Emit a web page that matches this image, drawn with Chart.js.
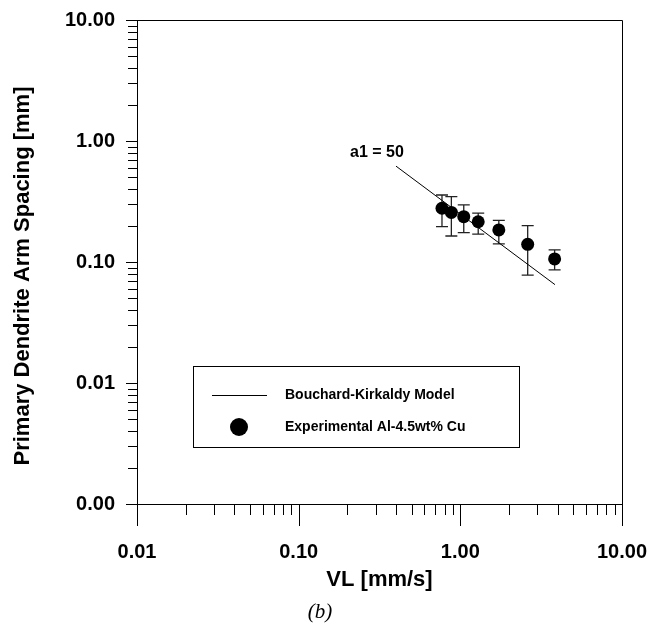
<!DOCTYPE html>
<html><head><meta charset="utf-8">
<script src="https://cdn.jsdelivr.net/npm/chart.js@4"></script>
<style>html,body{margin:0;padding:0;background:#fff}#wrap{width:649px;height:628px}</style>
</head><body><div id="wrap"><canvas id="c" width="649" height="628"></canvas></div>
<script>
// ---- data ----
const vl = [0.77, 0.88, 1.05, 1.29, 1.73, 2.61, 3.83];
const spacing = [0.278, 0.257, 0.237, 0.215, 0.184, 0.140, 0.106];
const errHigh = [0.358, 0.347, 0.296, 0.253, 0.221, 0.200, 0.126];
const errLow = [0.196, 0.164, 0.175, 0.170, 0.141, 0.078, 0.086];
const modelVL = [0.40, 3.85];
const modelSpacing = [0.62, 0.065];
const xDecades = [0.01, 0.1, 1, 10];
const xTickLabels = ["0.01", "0.10", "1.00", "10.00"];
const yDecades = [0.001, 0.01, 0.1, 1, 10];
const yTickLabels = ["0.00", "0.01", "0.10", "1.00", "10.00"];
const seriesNames = ["Bouchard-Kirkaldy Model", "Experimental Al-4.5wt% Cu"];
const xTitle = "VL [mm/s]";
const yTitle = "Primary Dendrite Arm Spacing [mm]";
const annotationText = "a1 = 50";
const captionText = "(b)";

const FONT = "'Liberation Sans', Arial, Helvetica, sans-serif";

function buildLogTicks(decades) {
  const t = [];
  for (let i = 0; i < decades.length; i++) {
    t.push({ value: decades[i], major: true });
    if (i < decades.length - 1) {
      for (let k = 2; k <= 9; k++) t.push({ value: decades[i] * k, major: false });
    }
  }
  return t;
}
function labelFor(decades, labels, v) {
  for (let i = 0; i < decades.length; i++) {
    if (Math.abs(decades[i] - v) / decades[i] < 1e-6) return labels[i];
  }
  return '';
}

const framePlugin = {
  id: 'frame',
  beforeDatasetsDraw(chart) {
    const { ctx, chartArea: a, scales: { x, y } } = chart;
    ctx.save();
    ctx.strokeStyle = '#000';
    ctx.lineWidth = 1;
    ctx.beginPath();
    ctx.moveTo(a.left, a.top + 0.5); ctx.lineTo(a.right + 0.5, a.top + 0.5);
    ctx.lineTo(a.right + 0.5, a.bottom);
    ctx.stroke();
    // tick marks
    ctx.beginPath();
    x.ticks.forEach(t => {
      const px = Math.round(x.getPixelForValue(t.value)) + 0.5;
      const len = t.major ? 22 : 11;
      ctx.moveTo(px, a.bottom); ctx.lineTo(px, a.bottom + len);
    });
    y.ticks.forEach(t => {
      const py = Math.round(y.getPixelForValue(t.value)) + 0.5;
      const len = t.major ? 11 : 9;
      ctx.moveTo(a.left - len, py); ctx.lineTo(a.left, py);
    });
    ctx.stroke();
    // error bars
    ctx.lineWidth = 1.3;
    ctx.strokeStyle = '#222';
    ctx.beginPath();
    for (let i = 0; i < vl.length; i++) {
      const px = x.getPixelForValue(vl[i]);
      const hi = y.getPixelForValue(errHigh[i]);
      const lo = y.getPixelForValue(errLow[i]);
      ctx.moveTo(px, hi); ctx.lineTo(px, lo);
      ctx.moveTo(px - 6, hi); ctx.lineTo(px + 6, hi);
      ctx.moveTo(px - 6, lo); ctx.lineTo(px + 6, lo);
    }
    ctx.stroke();
    ctx.restore();
  },
  afterDraw(chart) {
    const { ctx } = chart;
    ctx.save();
    ctx.fillStyle = '#000';
    ctx.strokeStyle = '#000';
    // y axis title
    ctx.save();
    ctx.translate(23, 276);
    ctx.rotate(-Math.PI / 2);
    ctx.font = "bold 22px " + FONT;
    ctx.textAlign = 'center';
    ctx.textBaseline = 'middle';
    ctx.fillText(yTitle, 0, 0);
    ctx.restore();
    // annotation
    ctx.font = "bold 16px " + FONT;
    ctx.textAlign = 'center';
    ctx.textBaseline = 'middle';
    ctx.fillText(annotationText, 377, 153);
    // legend box
    ctx.lineWidth = 1;
    ctx.strokeRect(193.5, 366.5, 326, 81);
    ctx.beginPath();
    ctx.moveTo(212, 395.5); ctx.lineTo(267, 395.5);
    ctx.stroke();
    ctx.beginPath();
    ctx.arc(239, 427, 9, 0, Math.PI * 2);
    ctx.fill();
    ctx.font = "bold 14px " + FONT;
    ctx.textAlign = 'left';
    ctx.fillText(seriesNames[0], 285, 395);
    ctx.fillText(seriesNames[1], 285, 427);
    // caption
    ctx.font = "italic 21px 'Liberation Serif', 'DejaVu Serif', serif";
    ctx.textAlign = 'center';
    ctx.fillText(captionText, 320, 612);
    ctx.restore();
  }
};

new Chart(document.getElementById('c'), {
  type: 'scatter',
  data: {
    datasets: [
      {
        label: seriesNames[0],
        data: modelVL.map((v, i) => ({ x: v, y: modelSpacing[i] })),
        showLine: true, borderColor: '#000', borderWidth: 1, pointRadius: 0, order: 2
      },
      {
        label: seriesNames[1],
        data: vl.map((v, i) => ({ x: v, y: spacing[i] })),
        backgroundColor: '#000', borderColor: '#000', pointRadius: 6.5, pointBorderWidth: 0, order: 1
      }
    ]
  },
  options: {
    responsive: false, animation: false, devicePixelRatio: 1,
    layout: { padding: { top: 20, right: 27, left: 0, bottom: 0 } },
    plugins: { legend: { display: false }, tooltip: { enabled: false } },
    scales: {
      x: {
        type: 'logarithmic', min: xDecades[0], max: xDecades[xDecades.length - 1], position: 'bottom',
        afterFit(s) { s.height = 124; s.paddingLeft = 0; s.paddingRight = 0; },
        afterBuildTicks(s) { s.ticks = buildLogTicks(xDecades); },
        grid: { display: false, drawTicks: false, tickLength: 0 },
        border: { display: true, color: '#000', width: 1 },
        ticks: {
          autoSkip: false, maxRotation: 0, minRotation: 0, padding: 36, color: '#000',
          font: { family: FONT, size: 20, weight: 'bold' },
          callback: (v) => labelFor(xDecades, xTickLabels, v)
        },
        title: { display: true, text: xTitle, color: '#000', font: { family: FONT, size: 22, weight: 'bold' }, padding: { top: 0, bottom: 35 } }
      },
      y: {
        type: 'logarithmic', min: yDecades[0], max: yDecades[yDecades.length - 1], position: 'left',
        afterFit(s) { s.width = 137; s.paddingTop = 0; s.paddingBottom = 0; },
        afterBuildTicks(s) { s.ticks = buildLogTicks(yDecades); },
        grid: { display: false, drawTicks: false, tickLength: 0 },
        border: { display: true, color: '#000', width: 1 },
        ticks: {
          autoSkip: false, padding: 22, color: '#000',
          font: { family: FONT, size: 20, weight: 'bold' },
          callback: (v) => labelFor(yDecades, yTickLabels, v)
        },
        title: { display: false, text: yTitle }
      }
    }
  },
  plugins: [framePlugin]
});
</script>
</body></html>
